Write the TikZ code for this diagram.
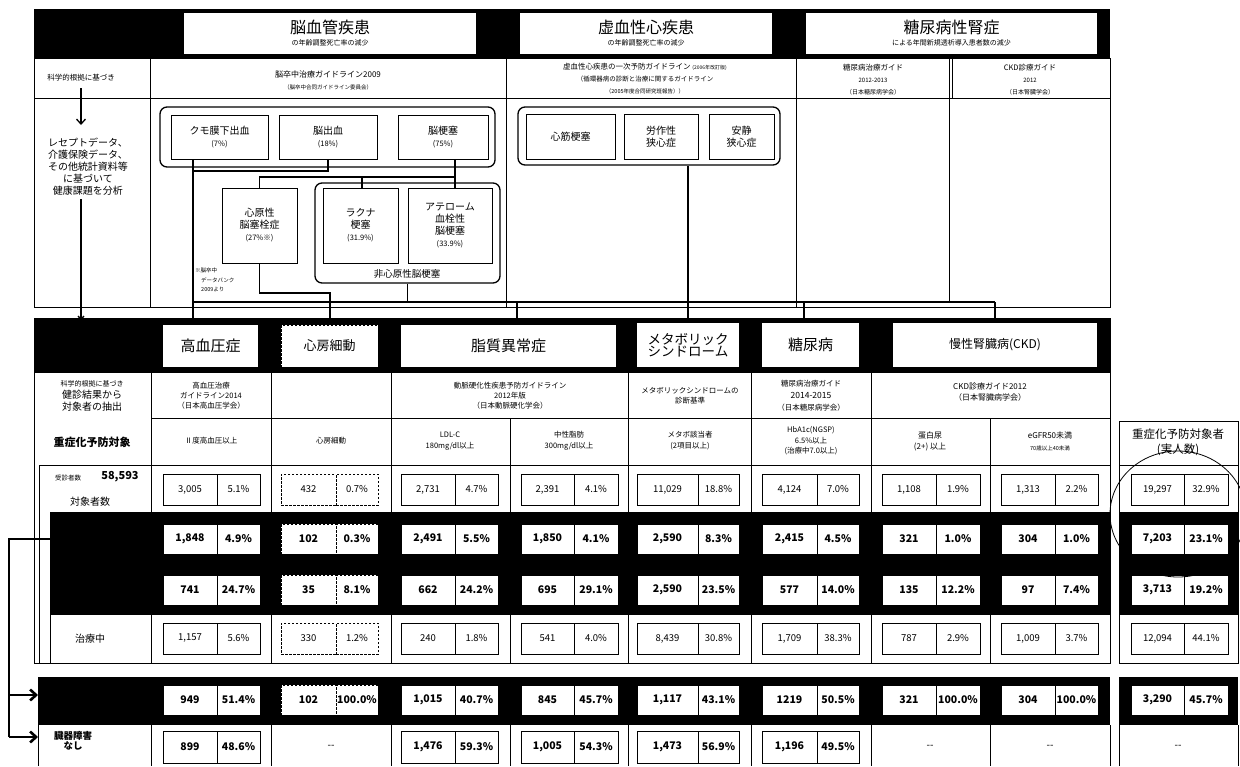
\documentclass[tikz,border=0pt]{standalone}
\usepackage{fontspec}
\setmainfont{Noto Sans CJK JP}
\usetikzlibrary{arrows.meta}
\newcommand\FZ[2]{\fontsize{#1}{#2}\selectfont}
\newcommand\rbox[7]{\node[#6,minimum width={(#4)-(#2)},minimum height={(#5)-(#3)}] (#1) at ({((#2)+(#4))/2},{((#3)+(#5))/2}) {#7};}
\newcommand\pbox[9]{\rbox{#1n}{#2}{#3}{(#2)+(#5)}{(#3)+(#4)}{#9}{#7}\rbox{#1p}{(#2)+(#5)}{#3}{(#2)+(#5)+(#6)}{(#3)+(#4)}{#9}{#8}}
\begin{document}
\begin{tikzpicture}[x=1pt,y=-1pt,
  tl/.style={line width=0.8pt},
  wb/.style={draw,fill=white,line width=0.8pt,inner sep=0pt,align=center},
  grp/.style={draw,rounded corners=7pt,line width=1.3pt,inner sep=0pt},
  conn/.style={line width=1.4pt},
  tx/.style={inner sep=0pt,align=center},
  wc/.style={wb,font=\FZ{9.5}{11}},
  bc/.style={wb,font=\FZ{10.5}{12}\bfseries},
  dsh/.style={dash pattern=on 2.5pt off 1.5pt},
  wcd/.style={wc,dsh},
  bcd/.style={bc,dsh},
  bigline/.style={line width=2.6pt},
  barb/.style={-{Straight Barb[length=6pt,width=11pt]}}
]
\useasboundingbox (0,0) rectangle (1240,766);
% ---------------- top section ----------------
\fill (34,9) rectangle (1110,58);
\draw[tl] (34,58) rectangle (1110,307);
\draw[tl] (34,98) -- (1110,98);
\draw[tl] (150,58) -- (150,307);
\draw[tl] (506,58) -- (506,307);
\draw[tl] (796,58) -- (796,307);
\draw[tl] (949,58) -- (949,302);
\draw[tl] (952,58) -- (952,98);
\rbox{t1}{184}{13}{476}{54}{wb,draw=none}{\FZ{16}{18}脳血管疾患\\\FZ{7}{9}の年齢調整死亡率の減少}
\rbox{t2}{520}{13}{772}{54}{wb,draw=none}{\FZ{16}{18}虚血性心疾患\\\FZ{7}{9}の年齢調整死亡率の減少}
\rbox{t3}{806}{13}{1097}{54}{wb,draw=none}{\FZ{16}{18}糖尿病性腎症\\\FZ{7}{9}による年間新規透析導入患者数の減少}
% row 2 texts
\node[tx,font=\FZ{7.5}{9}] (g0) at (81,78) {科学的根拠に基づき};
\node[tx] (g1) at (328,80) {\FZ{8}{10}脳卒中治療ガイドライン2009\\\FZ{5.5}{7}（脳卒中合同ガイドライン委員会）};
\node[tx] (g2) at (645,79) {\FZ{7.5}{9}虚血性心疾患の一次予防ガイドライン {\FZ{5}{6}(2006年改訂版)}\\\FZ{6.5}{8}（循環器病の診断と治療に関するガイドライン\\\FZ{5.5}{7}（2005年度合同研究班報告））};
\node[tx] (g3) at (873,80) {\FZ{7.5}{9}糖尿病治療ガイド\\\FZ{6}{8}2012-2013\\\FZ{6}{8}（日本糖尿病学会）};
\node[tx] (g4) at (1030,80) {\FZ{7.5}{9}CKD診療ガイド\\\FZ{6}{8}2012\\\FZ{6}{8}（日本腎臓学会）};
% left column of disease area
\coordinate (a0) at (81,88);
\coordinate (a1) at (81,125);
\draw[line width=1.3pt,-{Straight Barb[length=5pt,width=9pt]}] (a0) -- (a1);
\node[tx,font=\FZ{10}{12}] (rec) at (88,167) {レセプトデータ、\\介護保険データ、\\その他統計資料等\\に基づいて\\健康課題を分析};
\coordinate (a2) at (81,199);
\coordinate (a3) at (81,320);
\draw[line width=1.3pt,-{Straight Barb[length=3pt,width=6pt]}] (a2) -- (a3);
% brain disease boxes
\rbox{bg}{160}{107}{495}{167}{grp}{}
\rbox{kumo}{171}{115}{268}{159}{wb}{\FZ{10}{13}クモ膜下出血\\\FZ{7.5}{10}(7\%)}
\rbox{nsk}{279}{115}{377}{159}{wb}{\FZ{10}{13}脳出血\\\FZ{7.5}{10}(18\%)}
\rbox{nkt}{398}{115}{488}{159}{wb}{\FZ{10}{13}脳梗塞\\\FZ{7.5}{10}(75\%)}
\rbox{ncg}{315}{183}{500}{283}{grp}{}
\node[tx,font=\FZ{9.5}{11}] (ncgl) at (407,274) {非心原性脳梗塞};
\rbox{sgn}{222}{188}{297}{263}{wb}{\FZ{10}{13}心原性\\\FZ{10}{13}脳塞栓症\\\FZ{7.5}{11}(27\%※)}
\rbox{lac}{323}{188}{398}{263}{wb}{\FZ{10}{13}ラクナ\\\FZ{10}{13}梗塞\\\FZ{7.5}{11}(31.9\%)}
\rbox{ath}{408}{188}{492}{263}{wb}{\FZ{10}{13}アテローム\\\FZ{10}{13}血栓性\\\FZ{10}{13}脳梗塞\\\FZ{7.5}{11}(33.9\%)}
\node[tx,anchor=north west,align=left,font=\FZ{5.5}{9.5}] (fn) at (195,268) {※脳卒中\\\hspace{6pt}データバンク\\\hspace{6pt}2009より};
% heart disease boxes
\rbox{hg}{518}{107}{780}{165}{grp}{}
\rbox{mi}{526}{114}{615}{159}{wb}{\FZ{10}{12}心筋梗塞}
\rbox{ea}{624}{114}{698}{159}{wb}{\FZ{10}{13}労作性\\\FZ{10}{13}狭心症}
\rbox{ra}{709}{114}{774}{159}{wb}{\FZ{10}{13}安静\\\FZ{10}{13}狭心症}
% ---------------- lower section 1 ----------------
\fill (34,318) rectangle (1110,373);
\draw[tl] (34,318) rectangle (1110,663);
\draw[tl] (151,418) -- (1110,418);
\draw[tl] (39,465) -- (1110,465);
\draw[tl] (39,465) -- (39,663);
\foreach \xx in {151,271,391,628,751,871} {\draw[tl] (\xx,373) -- (\xx,663);}
\foreach \xx in {510,990} {\draw[tl] (\xx,418) -- (\xx,663);}
\fill (50,512) rectangle (1110,615);
\draw[tl] (50,615) -- (50,663);
% summary column
\draw[tl] (1119,421) rectangle (1238,663);
\draw[tl] (1119,465) -- (1238,465);
\fill (1119,512) rectangle (1238,615);
\node[tx,font=\FZ{11.5}{15}] (sumh) at (1178,442) {重症化予防対象者\\(実人数)};
% lower headers
\rbox{hbp}{163}{325}{258}{367}{wb,draw=none}{\FZ{15}{17}高血圧症}
\rbox{af}{281}{325}{378}{367}{wb,dsh}{\FZ{13}{15}心房細動}
\rbox{lip}{401}{325}{616}{367}{wb,draw=none}{\FZ{15}{17}脂質異常症}
\rbox{met}{637}{323}{739}{367}{wb,draw=none}{\FZ{13.5}{14}メタボリック\\\FZ{13.5}{14}シンドローム}
\rbox{dm}{762}{323}{859}{367}{wb,draw=none}{\FZ{15}{17}糖尿病}
\rbox{ckd}{893}{323}{1097}{367}{wb,draw=none}{\FZ{12}{14}慢性腎臓病(CKD)}
% guideline row
\node[tx] (l1) at (92,396) {\FZ{7}{10}科学的根拠に基づき\\\FZ{10}{11.5}健診結果から\\\FZ{10}{11.5}対象者の抽出};
\node[tx,font=\FZ{7.5}{10}] (l2) at (211,396) {高血圧治療\\ガイドライン2014\\（日本高血圧学会）};
\node[tx,font=\FZ{7.5}{10}] (l3) at (510,396) {動脈硬化性疾患予防ガイドライン\\2012年版\\（日本動脈硬化学会）};
\node[tx,font=\FZ{7.5}{10}] (l4) at (690,396) {メタボリックシンドロームの\\診断基準};
\node[tx] (l5) at (811,396) {\FZ{7.5}{10}糖尿病治療ガイド\\\FZ{8.5}{11}2014-2015\\\FZ{7.5}{10}（日本糖尿病学会）};
\node[tx,font=\FZ{8}{11}] (l6) at (990,392) {CKD診療ガイド2012\\（日本腎臓病学会）};
% target row
\node[tx,font=\FZ{11}{13}\bfseries] (m0) at (92,442) {重症化予防対象};
\node[tx,font=\FZ{7.5}{11}] (m1) at (211,441) {Ⅱ度高血圧以上};
\node[tx,font=\FZ{7.5}{11}] (m2) at (331,441) {心房細動};
\node[tx,font=\FZ{7.5}{11}] (m3) at (450,441) {LDL-C\\180mg/dl以上};
\node[tx,font=\FZ{7.5}{11}] (m4) at (569,441) {中性脂肪\\300mg/dl以上};
\node[tx,font=\FZ{7.5}{11}] (m5) at (690,441) {メタボ該当者\\(2項目以上)};
\node[tx,font=\FZ{7.5}{10.5}] (m6) at (811,441) {HbA1c(NGSP)\\6.5\%以上\\(治療中7.0以上)};
\node[tx,font=\FZ{8}{11}] (m7) at (930,441) {蛋白尿\\(2+) 以上};
\node[tx] (m8) at (1050,441) {\FZ{8}{11}eGFR50未満\\\FZ{5.5}{8}70歳以上40未満};
% row labels
\node[tx,font=\FZ{6.5}{8}] (k1) at (68,478) {受診者数};
\node[tx,font=\FZ{11}{13}\bfseries] (k2) at (120,477) {58,593};
\node[tx,font=\FZ{10}{12}] (k3) at (90,502) {対象者数};
\node[tx,font=\FZ{10}{12}] (k4) at (90,639) {治療中};
% ---------------- lower section 2 ----------------
\fill (38,677) rectangle (1110,725);
\foreach \xx in {38,151,271,391,510,628,751,871,990,1110} {\draw[tl] (\xx,725) -- (\xx,766);}
\fill (1119,677) rectangle (1238,725);
\draw[tl] (1119,725) -- (1119,766);
\draw[tl] (1238,725) -- (1238,766);
\node[tx,font=\FZ{9.5}{10}\bfseries] (k5) at (73,741) {臓器障害\\なし};
% ---------------- data boxes ----------------
% row 1
\pbox{a1}{163}{474}{31}{54}{43}{3,005}{5.1\%}{wc}
\pbox{a2}{281}{474}{31}{55}{42}{432}{0.7\%}{wcd}
\pbox{a3}{401}{474}{31}{54}{43}{2,731}{4.7\%}{wc}
\pbox{a4}{521}{474}{31}{53}{44}{2,391}{4.1\%}{wc}
\pbox{a5}{637}{474}{31}{61}{41}{11,029}{18.8\%}{wc}
\pbox{a6}{762}{474}{31}{55}{42}{4,124}{7.0\%}{wc}
\pbox{a7}{882}{474}{31}{54}{44}{1,108}{1.9\%}{wc}
\pbox{a8}{1001}{474}{31}{54}{43}{1,313}{2.2\%}{wc}
\pbox{a9}{1131}{474}{31}{53}{44}{19,297}{32.9\%}{wc}
% row 2
\pbox{b1}{163}{524}{30}{54}{43}{1,848}{4.9\%}{bc}
\pbox{b2}{281}{524}{30}{55}{42}{102}{0.3\%}{bcd}
\pbox{b3}{401}{524}{30}{54}{43}{2,491}{5.5\%}{bc}
\pbox{b4}{521}{524}{30}{53}{44}{1,850}{4.1\%}{bc}
\pbox{b5}{637}{524}{30}{61}{41}{2,590}{8.3\%}{bc}
\pbox{b6}{762}{524}{30}{55}{42}{2,415}{4.5\%}{bc}
\pbox{b7}{882}{524}{30}{54}{44}{321}{1.0\%}{bc}
\pbox{b8}{1001}{524}{30}{54}{43}{304}{1.0\%}{bc}
\pbox{b9}{1131}{524}{30}{53}{44}{7,203}{23.1\%}{bc}
% row 3
\pbox{c1}{163}{575}{30}{54}{43}{741}{24.7\%}{bc}
\pbox{c2}{281}{575}{30}{55}{42}{35}{8.1\%}{bcd}
\pbox{c3}{401}{575}{30}{54}{43}{662}{24.2\%}{bc}
\pbox{c4}{521}{575}{30}{53}{44}{695}{29.1\%}{bc}
\pbox{c5}{637}{575}{30}{61}{41}{2,590}{23.5\%}{bc}
\pbox{c6}{762}{575}{30}{55}{42}{577}{14.0\%}{bc}
\pbox{c7}{882}{575}{30}{54}{44}{135}{12.2\%}{bc}
\pbox{c8}{1001}{575}{30}{54}{43}{97}{7.4\%}{bc}
\pbox{c9}{1131}{575}{30}{53}{44}{3,713}{19.2\%}{bc}
% row 4
\pbox{d1}{163}{623}{31}{54}{43}{1,157}{5.6\%}{wc}
\pbox{d2}{281}{623}{31}{55}{42}{330}{1.2\%}{wcd}
\pbox{d3}{401}{623}{31}{54}{43}{240}{1.8\%}{wc}
\pbox{d4}{521}{623}{31}{53}{44}{541}{4.0\%}{wc}
\pbox{d5}{637}{623}{31}{61}{41}{8,439}{30.8\%}{wc}
\pbox{d6}{762}{623}{31}{55}{42}{1,709}{38.3\%}{wc}
\pbox{d7}{882}{623}{31}{54}{44}{787}{2.9\%}{wc}
\pbox{d8}{1001}{623}{31}{54}{43}{1,009}{3.7\%}{wc}
\pbox{d9}{1131}{623}{31}{53}{44}{12,094}{44.1\%}{wc}
% row 5
\pbox{e1}{163}{685}{30}{54}{43}{949}{51.4\%}{bc}
\pbox{e2}{281}{685}{30}{55}{42}{102}{100.0\%}{bcd}
\pbox{e3}{401}{685}{30}{54}{43}{1,015}{40.7\%}{bc}
\pbox{e4}{521}{685}{30}{53}{44}{845}{45.7\%}{bc}
\pbox{e5}{637}{685}{30}{61}{41}{1,117}{43.1\%}{bc}
\pbox{e6}{762}{685}{30}{55}{42}{1219}{50.5\%}{bc}
\pbox{e7}{882}{685}{30}{54}{44}{321}{100.0\%}{bc}
\pbox{e8}{1001}{685}{30}{54}{43}{304}{100.0\%}{bc}
\pbox{e9}{1131}{685}{30}{53}{44}{3,290}{45.7\%}{bc}
% row 6
\pbox{f1}{163}{731}{32}{54}{43}{899}{48.6\%}{bc}
\node[tx,font=\FZ{10}{12}] (f2) at (331,747) {-{}-};
\pbox{f3}{401}{731}{32}{54}{43}{1,476}{59.3\%}{bc}
\pbox{f4}{521}{731}{32}{53}{44}{1,005}{54.3\%}{bc}
\pbox{f5}{637}{731}{32}{61}{41}{1,473}{56.9\%}{bc}
\pbox{f6}{762}{731}{32}{55}{42}{1,196}{49.5\%}{bc}
\node[tx,font=\FZ{10}{12}] (f7) at (930,747) {-{}-};
\node[tx,font=\FZ{10}{12}] (f8) at (1050,747) {-{}-};
\node[tx,font=\FZ{10}{12}] (f9) at (1178,747) {-{}-};
% circle
\draw[line width=0.8pt] (1178,514) ellipse [x radius=68, y radius=63];
% ---------------- connectors ----------------
\coordinate (xA) at (193,0);
\coordinate (j1) at (193,171);
\coordinate (b1) at (0,177);
\coordinate (xB) at (455,0);
\coordinate (xC) at (362,0);
\coordinate (kk) at (330,293);
\coordinate (bus) at (0,302);
\coordinate (xE) at (517,0);
\coordinate (xF) at (804,0);
\draw[conn] (kumo.south -| xA) -- (hbp.north -| xA);
\draw[conn] (nsk.south) |- (j1);
\draw[conn] (nkt.south -| xB) -- (b1 -| xB) -- (b1 -| sgn.north) -- (sgn.north);
\draw[conn] (b1 -| xB) -- (ath.north -| xB);
\draw[conn] (b1 -| xC) -- (lac.north -| xC);
\draw[conn] (sgn.south) |- (kk) -- (af.north -| kk);
\draw[conn] (ncg.south) -- (ncg.south |- bus);
\draw[conn] (met.north) -- (met.north |- hg.south);
\draw[conn] (bus -| xA) -- (bus -| ckd.north);
\draw[conn] (bus -| xE) -- (lip.north -| xE);
\draw[conn] (bus -| xF) -- (dm.north -| xF);
\draw[conn] (bus -| ckd.north) -- (ckd.north);
% left big arrows
\coordinate (la) at (50,539);
\coordinate (lb) at (9,539);
\coordinate (lc) at (9,737);
\coordinate (ld) at (9,695);
\coordinate (le) at (38,695);
\coordinate (lf) at (38,737);
\draw[bigline] (la) -- (lb) -- (lc);
\draw[bigline,barb] (ld) -- (le);
\draw[bigline,barb] (lc) -- (lf);
\end{tikzpicture}
\end{document}
